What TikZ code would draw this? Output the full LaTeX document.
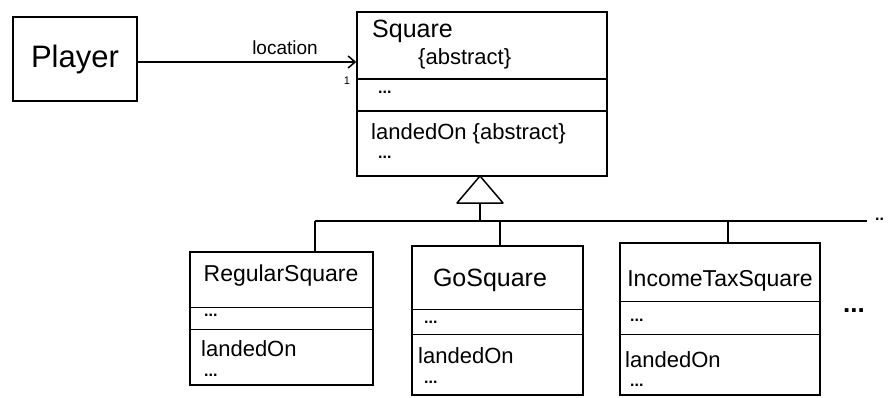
\documentclass[tikz,border=0pt]{standalone}
\usepackage{fontspec}
\setmainfont{Liberation Sans}
\usetikzlibrary{arrows.meta}
\begin{document}
\begin{tikzpicture}[x=1pt,y=-1pt,
  umlbox/.style={draw, line width=1.5pt, inner sep=0pt},
  ln/.style={line width=1.5pt},
  clsname/.style={font=\fontsize{23}{26}\selectfont, inner sep=0pt},
  txt/.style={font=\fontsize{22}{24}\selectfont, anchor=west, inner sep=0pt},
  dots/.style={font=\fontsize{16}{18}\selectfont\bfseries, anchor=west, inner sep=0pt},
  lbl/.style={font=\fontsize{19}{21}\selectfont, inner sep=0pt}]
\useasboundingbox (0,0) rectangle (893,398);
\fill[white] (0,0) rectangle (893,398);

% Player
\node[umlbox, minimum width=124pt, minimum height=84pt, font=\fontsize{31}{34}\selectfont] (player) at (75,59) {Player};

% Square
\node[umlbox, minimum width=250pt, minimum height=164pt] (sq) at (482,94) {};
\draw[ln] (sq.north west) ++(0,68) coordinate (sqd1) -- (sqd1 -| sq.east);
\draw[ln] (sq.north west) ++(0,100) coordinate (sqd2) -- (sqd2 -| sq.east);
\node[clsname, font=\fontsize{25}{28}\selectfont, anchor=west] (sqn) at (372,31) {Square};
\node[txt] (sqa) at (418,59) {\{abstract\}};
\node[dots] (sqat) at (378,92) {...};
\node[txt] (sqm) at (371,134) {landedOn \{abstract\}};
\node[dots] (sqmt) at (378,157) {...};

% association
\draw[ln, -{Straight Barb[length=7pt,width=12pt]}] (player.east |- 0,62) coordinate (pa) -- (pa -| sq.west);
\node[lbl] (loc) at (285,48) {location};
\node[font=\fontsize{11}{12}\selectfont, inner sep=0pt] (mult) at (347,81) {1};

% generalization
\coordinate (apex) at (480,176);
\draw[ln, line join=round] (apex) -- ++(-23,27) coordinate (tl) -- ++(46,0) coordinate (tr) -- cycle;
\coordinate (tb) at (480,203);
\coordinate (bus) at (480,221);
\coordinate (busL) at (315,221);
\coordinate (busR) at (867,221);
\draw[ln] (tb) -- (bus);
\draw[ln] (busL) -- (busR);
\node[dots] (busdots) at (875,219) {..};

% RegularSquare
\node[umlbox, minimum width=183pt, minimum height=133pt] (rs) at (281.5,318.5) {};
\draw[ln] (rs.north west) ++(0,56) coordinate (rsd1) -- (rsd1 -| rs.east);
\draw[ln] (rs.north west) ++(0,78) coordinate (rsd2) -- (rsd2 -| rs.east);
\node[clsname] (rsn) at (281,276) {RegularSquare};
\node[dots] (rsat) at (204,315) {...};
\node[txt] (rsm) at (201,349) {landedOn};
\node[dots] (rsmt) at (204,375) {...};
\draw[ln] (busL) -- (busL |- rs.north);

% GoSquare
\node[umlbox, minimum width=171pt, minimum height=149pt] (gs) at (497.5,320.5) {};
\draw[ln] (gs.north west) ++(0,64) coordinate (gsd1) -- (gsd1 -| gs.east);
\draw[ln] (gs.north west) ++(0,89) coordinate (gsd2) -- (gsd2 -| gs.east);
\node[clsname, font=\fontsize{25}{28}\selectfont] (gsn) at (490,280) {GoSquare};
\node[dots] (gsat) at (424,322) {...};
\node[txt] (gsm) at (418,356) {landedOn};
\node[dots] (gsmt) at (424,382) {...};
\draw[ln] (500,221) coordinate (b2) -- (b2 |- gs.north);

% IncomeTaxSquare
\node[umlbox, minimum width=200pt, minimum height=152pt] (is) at (720,319) {};
\draw[ln] (is.north west) ++(0,59) coordinate (isd1) -- (isd1 -| is.east);
\draw[ln] (is.north west) ++(0,92) coordinate (isd2) -- (isd2 -| is.east);
\node[clsname] (isn) at (720,281) {IncomeTaxSquare};
\node[dots] (isat) at (630,320) {...};
\node[txt] (ism) at (625,360) {landedOn};
\node[dots] (ismt) at (630,385) {...};
\draw[ln] (728,221) coordinate (b3) -- (b3 |- is.north);

% more subclasses
\node[dots, font=\fontsize{26}{28}\selectfont\bfseries] (more) at (843,311) {...};
\end{tikzpicture}
\end{document}
